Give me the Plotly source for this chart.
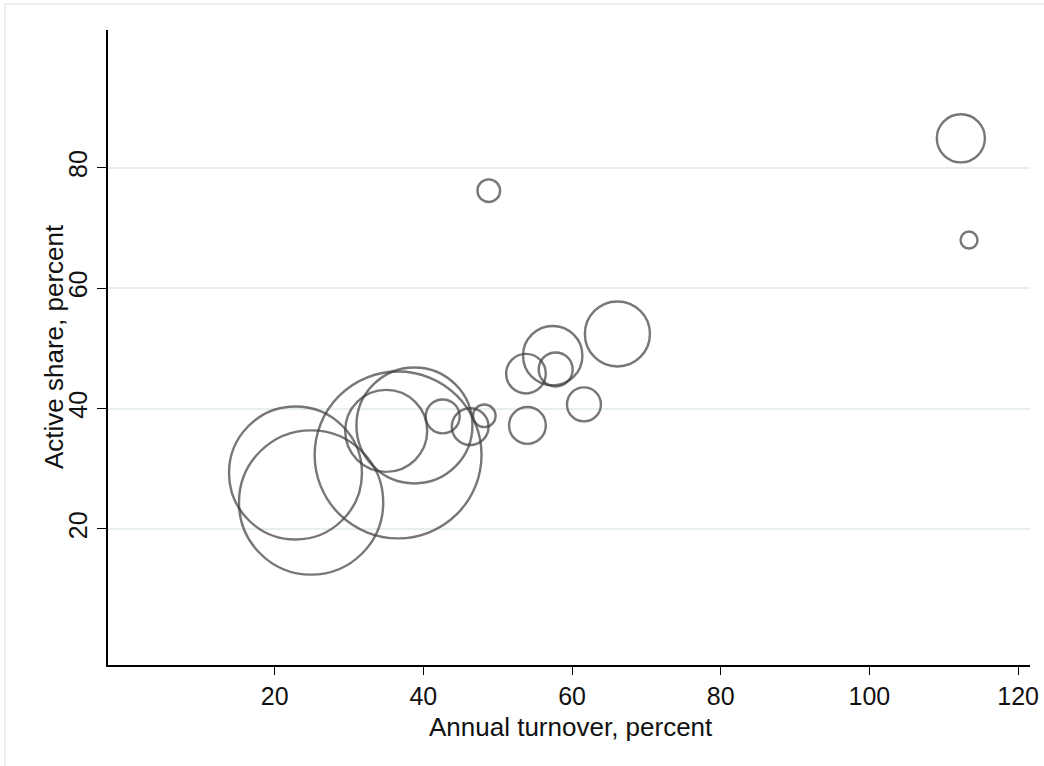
import plotly.graph_objects as go

# Data
turnover = [112.3, 113.4, 48.8, 66.1, 57.4, 57.8, 53.8, 61.6, 54.0, 48.2, 46.3, 42.6, 38.8, 35.0, 36.6, 22.8, 24.9]
active_share = [84.9, 68.0, 76.2, 52.4, 48.8, 46.5, 45.8, 40.7, 37.2, 38.8, 37.0, 38.7, 37.2, 36.3, 32.3, 29.3, 24.4]
weight = [289, 36, 64, 529, 441, 144, 196, 144, 169, 64, 169, 144, 1681, 841, 3481, 2209, 2601]

x_ticks = [20, 40, 60, 80, 100, 120]
y_ticks = [20, 40, 60, 80]
x_title = "Annual turnover, percent"
y_title = "Active share, percent"

W, H = 1044, 766
ml, mr, mt, mb = 108, 14, 30, 101
pw, ph = W - ml - mr, H - mt - mb

fig = go.Figure()
fig.add_trace(go.Scatter(
    x=turnover, y=active_share, mode="markers",
    marker=dict(size=weight, sizemode="area", sizeref=0.25,
                color="rgba(0,0,0,0)", line=dict(color="#3e3e3e", width=2.4)),
    showlegend=False, hoverinfo="x+y",
))

font = dict(family="Liberation Sans, Arial, sans-serif", size=25, color="#111111")
title_font = dict(family="Liberation Sans, Arial, sans-serif", size=26, color="#111111")

fig.update_layout(
    width=W, height=H,
    margin=dict(l=ml, r=mr, t=mt, b=mb, autoexpand=False),
    paper_bgcolor="white", plot_bgcolor="white",
    font=font,
    xaxis=dict(range=[-2.42, 121.6], tickvals=x_ticks, showgrid=False, zeroline=False,
               showline=True, linecolor="black", linewidth=1.5, automargin=False,
               ticks="outside", ticklen=8, tickcolor="black", tickwidth=1.2,
               tickfont=font),
    yaxis=dict(range=[-2.6, 102.9], tickvals=y_ticks, showgrid=True, gridcolor="#e6eef0",
               gridwidth=1.5, zeroline=False, automargin=False,
               showline=True, linecolor="black", linewidth=1.5,
               ticks="outside", ticklen=9, tickcolor="black", tickwidth=1.2,
               tickangle=-90, tickfont=font),
)

# axis titles
fig.add_annotation(text=x_title, xref="paper", yref="paper",
                   x=(571 - ml) / pw, y=1 - (727 - mt) / ph, xanchor="center", yanchor="middle",
                   showarrow=False, font=title_font)
fig.add_annotation(text=y_title, xref="paper", yref="paper", textangle=-90,
                   x=(54 - ml) / pw, y=1 - (347 - mt) / ph, xanchor="center", yanchor="middle",
                   showarrow=False, font=title_font)

# outer graph-region frame (partly outside the page)
fig.add_shape(type="rect", xref="paper", yref="paper",
              x0=(5 - ml) / pw, x1=(1060 - ml) / pw,
              y0=1 - (790 - mt) / ph, y1=1 - (4 - mt) / ph,
              line=dict(color="#e4ecef", width=1.5), fillcolor="rgba(0,0,0,0)", layer="below")

# title sits almost entirely above the visible page
fig.add_annotation(text="p", xref="paper", yref="paper",
                   x=(460 - ml) / pw, y=1 - (-1 - mt) / ph, yanchor="bottom", xanchor="center",
                   showarrow=False,
                   font=dict(family="Liberation Serif, Times New Roman, serif", size=20, color="#111111"))

fig.write_html("out.html", config={"displayModeBar": False},
               post_script="document.body.style.margin='0';")
